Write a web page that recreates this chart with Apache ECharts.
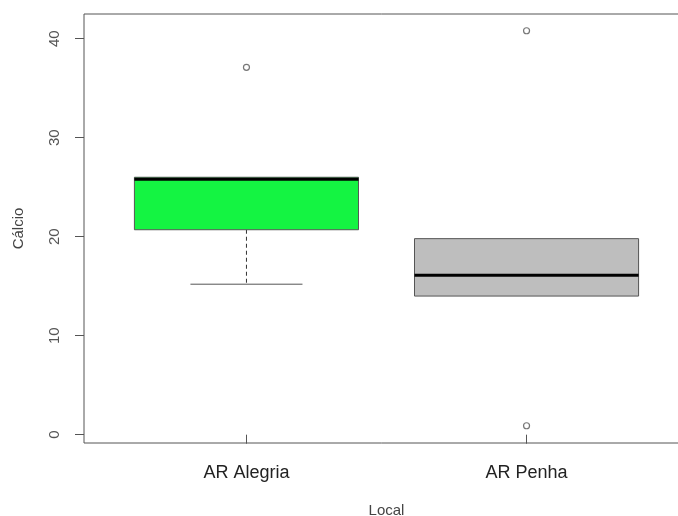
<!DOCTYPE html>
<html><head><meta charset='utf-8'>
<script src='https://cdn.jsdelivr.net/npm/echarts@6/dist/echarts.min.js'></script>
<style>html,body{margin:0;padding:0;background:#fff}#main{width:678px;height:516px}</style>
</head><body>
<div id='main'></div>
<script>
// box statistics
var categories = ['AR Alegria', 'AR Penha'];
var lowWhisker = [15.2, 14.0];
var q1 = [20.7, 14.0];
var median = [25.8, 16.1];
var q3 = [26.0, 19.8];
var highWhisker = [26.0, 19.8];
var boxColors = ['#14f442', '#bebebe'];
// outliers: [category index, value]
var outliers = [[0, 37.1], [1, 40.8], [1, 0.9]];
var yTicks = [0, 10, 20, 30, 40];

var boxData = categories.map(function (c, i) {
    return [i + 1, lowWhisker[i], q1[i], median[i], q3[i], highWhisker[i]];
});
var outData = outliers.map(function (o) { return [o[0] + 1, o[1]]; });

var chart = echarts.init(document.getElementById('main'));

function renderBox(params, api) {
    var x = api.value(0);
    var i = params.dataIndex;
    var half = 0.4, cap = 0.2;
    var pLow = api.coord([x, api.value(1)]);
    var pQ1 = api.coord([x, api.value(2)]);
    var pMed = api.coord([x, api.value(3)]);
    var pQ3 = api.coord([x, api.value(4)]);
    var pHigh = api.coord([x, api.value(5)]);
    var left = api.coord([x - half, 0])[0];
    var right = api.coord([x + half, 0])[0];
    var cl = api.coord([x - cap, 0])[0];
    var cr = api.coord([x + cap, 0])[0];
    var stroke = '#555';
    var kids = [];
    // whiskers only where they stick out of the box
    if (api.value(1) < api.value(2)) {
        kids.push({ type: 'line', shape: { x1: pQ1[0], y1: pQ1[1], x2: pLow[0], y2: pLow[1] },
                    style: { stroke: '#333', lineWidth: 1, lineDash: [4, 3] } });
        kids.push({ type: 'line', shape: { x1: cl, y1: pLow[1], x2: cr, y2: pLow[1] },
                    style: { stroke: stroke, lineWidth: 1 } });
    }
    if (api.value(5) > api.value(4)) {
        kids.push({ type: 'line', shape: { x1: pQ3[0], y1: pQ3[1], x2: pHigh[0], y2: pHigh[1] },
                    style: { stroke: '#333', lineWidth: 1, lineDash: [4, 3] } });
        kids.push({ type: 'line', shape: { x1: cl, y1: pHigh[1], x2: cr, y2: pHigh[1] },
                    style: { stroke: stroke, lineWidth: 1 } });
    }
    kids.push({ type: 'rect', shape: { x: left, y: pQ3[1], width: right - left, height: pQ1[1] - pQ3[1] },
                style: { fill: boxColors[i], stroke: stroke, lineWidth: 1 } });
    kids.push({ type: 'line', shape: { x1: left, y1: pMed[1], x2: right, y2: pMed[1] },
                style: { stroke: '#000', lineWidth: 3 } });
    return { type: 'group', children: kids };
}

var option = {
    animation: false,
    grid: { left: 84, top: 14, width: 605, height: 429, show: true, outerBoundsMode: 'none',
            containLabel: false, borderColor: '#555', borderWidth: 1, backgroundColor: 'transparent' },
    xAxis: {
        type: 'value', min: 0.42, max: 2.58,
        name: 'Local', nameLocation: 'middle', nameGap: 60,
        nameTextStyle: { fontFamily: 'Liberation Sans', fontSize: 15, color: '#444' },
        axisLine: { show: false },
        splitLine: { show: false },
        axisTick: { show: true, length: 9, lineStyle: { color: '#555' }, customValues: [1, 2] },
        axisLabel: { customValues: [1, 2], margin: 21, fontFamily: 'Liberation Sans', fontSize: 18, color: '#222',
                     formatter: function (v) { return categories[Math.round(v) - 1] || ''; } }
    },
    yAxis: {
        type: 'value', min: -0.84, max: 42.49,
        name: 'Cálcio', nameLocation: 'middle', nameGap: 58, nameRotate: 90,
        nameTextStyle: { fontFamily: 'Liberation Sans', fontSize: 15, color: '#444' },
        axisLine: { show: false },
        splitLine: { show: false },
        axisTick: { show: true, length: 9, lineStyle: { color: '#555' }, customValues: yTicks },
        axisLabel: { customValues: yTicks, rotate: 90, margin: 22, fontFamily: 'Liberation Sans',
                     fontSize: 15, color: '#555' }
    },
    series: [
        { type: 'custom', renderItem: renderBox, data: boxData, clip: false },
        { type: 'scatter', data: outData, symbol: 'circle', symbolSize: 6,
          itemStyle: { color: '#fff', borderColor: '#555', borderWidth: 1.2 } }
    ]
};
chart.setOption(option);
</script>
</body></html>
